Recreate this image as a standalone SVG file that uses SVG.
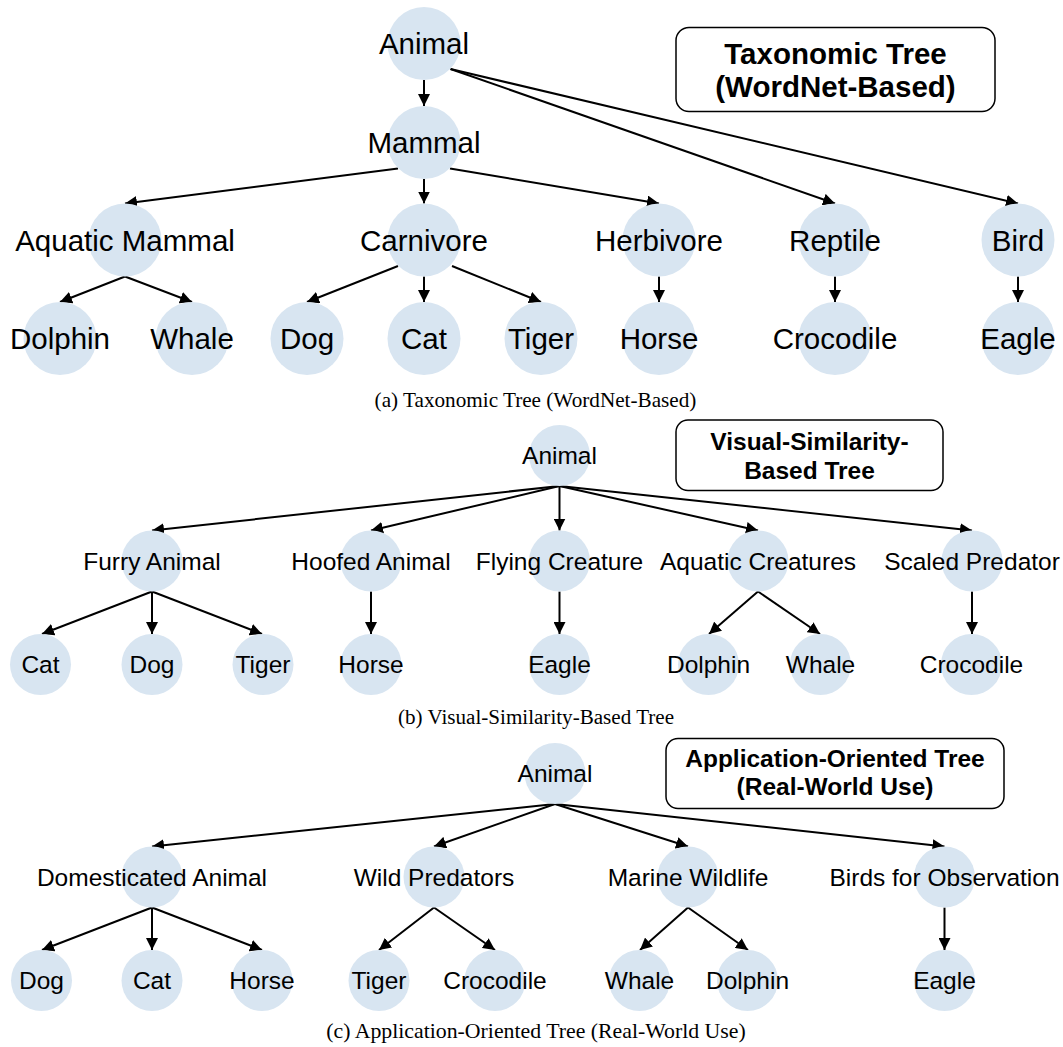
<svg xmlns="http://www.w3.org/2000/svg" width="1063" height="1047" viewBox="0 0 1063 1047">
<style>
  .bg { fill: #ffffff; }
  .node circle { fill: #d8e5f1; stroke: none; }
  .L { font-family: "Liberation Sans", Arial, sans-serif; font-size: 29.5px; fill: #000; text-anchor: middle; }
  .S { font-family: "Liberation Sans", Arial, sans-serif; font-size: 24.5px; fill: #000; text-anchor: middle; }
  .TL { font-family: "Liberation Sans", Arial, sans-serif; font-size: 29.5px; font-weight: bold; fill: #000; text-anchor: middle; }
  .TS { font-family: "Liberation Sans", Arial, sans-serif; font-size: 24.5px; font-weight: bold; fill: #000; text-anchor: middle; }
  .box { fill: #ffffff; stroke: #000; stroke-width: 1.5; }
  .cap { font-family: "Liberation Serif", "Times New Roman", serif; fill: #000; text-anchor: middle; }
  .edges line { stroke: #000; stroke-width: 2; marker-end: url(#arr); }
</style>
<defs>
  <marker id="arr" markerUnits="userSpaceOnUse" markerWidth="12" markerHeight="12" viewBox="0 0 12 12" refX="12" refY="6" orient="auto">
    <path d="M0,0 L12,6 L0,12 z" fill="#000"/>
  </marker>
</defs>
<rect class="bg" x="0" y="0" width="1063" height="1047"/>

<!-- ===== (a) ===== -->
<g id="a-title"><rect class="box" x="676" y="27.5" width="319" height="84" rx="13"/>
<text class="TL" x="835.5" y="63.5">Taxonomic Tree</text><text class="TL" x="835.5" y="97">(WordNet-Based)</text></g>

<g class="edges" id="a-edges">
  <line x1="424" y1="80" x2="424" y2="106"/>
  <line x1="450.5" y1="69" x2="835" y2="203.5"/>
  <line x1="450.5" y1="69" x2="1018" y2="203.5"/>
  <line x1="398" y1="168.5" x2="125" y2="203.5"/>
  <line x1="424" y1="179" x2="424" y2="203.5"/>
  <line x1="450" y1="168.5" x2="659" y2="203.5"/>
  <line x1="125" y1="276.5" x2="60" y2="302"/>
  <line x1="125" y1="276.5" x2="192" y2="302"/>
  <line x1="398" y1="266" x2="307" y2="302"/>
  <line x1="424" y1="276.5" x2="424" y2="302"/>
  <line x1="452" y1="266" x2="541" y2="302"/>
  <line x1="659" y1="276.5" x2="659" y2="302"/>
  <line x1="835" y1="276.5" x2="835" y2="302"/>
  <line x1="1018" y1="276.5" x2="1018" y2="302"/>
</g>

<g class="node" id="a-animal"><circle cx="424" cy="43.5" r="36.5"/><text class="L" x="424" y="54">Animal</text></g>
<g class="node" id="a-mammal"><circle cx="424" cy="142.5" r="36.5"/><text class="L" x="424" y="153">Mammal</text></g>
<g class="node" id="a-aquatic"><circle cx="125" cy="240" r="36.5"/><text class="L" x="125" y="250.5">Aquatic Mammal</text></g>
<g class="node" id="a-carnivore"><circle cx="424" cy="240" r="36.5"/><text class="L" x="424" y="250.5">Carnivore</text></g>
<g class="node" id="a-herbivore"><circle cx="659" cy="240" r="36.5"/><text class="L" x="659" y="250.5">Herbivore</text></g>
<g class="node" id="a-reptile"><circle cx="835" cy="240" r="36.5"/><text class="L" x="835" y="250.5">Reptile</text></g>
<g class="node" id="a-bird"><circle cx="1018" cy="240" r="36.5"/><text class="L" x="1018" y="250.5">Bird</text></g>
<g class="node" id="a-dolphin"><circle cx="60" cy="338.5" r="36.5"/><text class="L" x="60" y="349">Dolphin</text></g>
<g class="node" id="a-whale"><circle cx="192" cy="338.5" r="36.5"/><text class="L" x="192" y="349">Whale</text></g>
<g class="node" id="a-dog"><circle cx="307" cy="338.5" r="36.5"/><text class="L" x="307" y="349">Dog</text></g>
<g class="node" id="a-cat"><circle cx="424" cy="338.5" r="36.5"/><text class="L" x="424" y="349">Cat</text></g>
<g class="node" id="a-tiger"><circle cx="541" cy="338.5" r="36.5"/><text class="L" x="541" y="349">Tiger</text></g>
<g class="node" id="a-horse"><circle cx="659" cy="338.5" r="36.5"/><text class="L" x="659" y="349">Horse</text></g>
<g class="node" id="a-crocodile"><circle cx="835" cy="338.5" r="36.5"/><text class="L" x="835" y="349">Crocodile</text></g>
<g class="node" id="a-eagle"><circle cx="1018" cy="338.5" r="36.5"/><text class="L" x="1018" y="349">Eagle</text></g>

<text class="cap" id="cap-a" x="535.5" y="406.5" font-size="21.2">(a) Taxonomic Tree (WordNet-Based)</text>

<!-- ===== (b) ===== -->
<g id="b-title"><rect class="box" x="676" y="420" width="267" height="70.5" rx="12"/>
<text class="TS" x="809.5" y="450">Visual-Similarity-</text><text class="TS" x="809.5" y="479">Based Tree</text></g>

<g class="edges" id="b-edges">
  <line x1="559.5" y1="486" x2="152" y2="530.5"/>
  <line x1="559.5" y1="486" x2="371" y2="530.5"/>
  <line x1="559.5" y1="486" x2="559.5" y2="530.5"/>
  <line x1="559.5" y1="486" x2="758" y2="530.5"/>
  <line x1="559.5" y1="486" x2="972" y2="530.5"/>
  <line x1="152" y1="591.5" x2="42" y2="634"/>
  <line x1="152" y1="591.5" x2="152" y2="634"/>
  <line x1="152" y1="591.5" x2="262" y2="634"/>
  <line x1="371" y1="591.5" x2="371" y2="634"/>
  <line x1="559.5" y1="591.5" x2="559.5" y2="634"/>
  <line x1="758" y1="591.5" x2="709" y2="634"/>
  <line x1="758" y1="591.5" x2="820" y2="634"/>
  <line x1="972" y1="591.5" x2="972" y2="634"/>
</g>

<g class="node" id="b-animal"><circle cx="559.5" cy="455.5" r="30.5"/><text class="S" x="559.5" y="464">Animal</text></g>
<g class="node" id="b-furry"><circle cx="152" cy="561" r="30.5"/><text class="S" x="152" y="569.5">Furry Animal</text></g>
<g class="node" id="b-hoofed"><circle cx="371" cy="561" r="30.5"/><text class="S" x="371" y="569.5">Hoofed Animal</text></g>
<g class="node" id="b-flying"><circle cx="559.5" cy="561" r="30.5"/><text class="S" x="559.5" y="569.5">Flying Creature</text></g>
<g class="node" id="b-aquatic"><circle cx="758" cy="561" r="30.5"/><text class="S" x="758" y="569.5">Aquatic Creatures</text></g>
<g class="node" id="b-scaled"><circle cx="972" cy="561" r="30.5"/><text class="S" x="972" y="569.5">Scaled Predator</text></g>
<g class="node" id="b-cat"><circle cx="40.5" cy="664.5" r="30.5"/><text class="S" x="40.5" y="673">Cat</text></g>
<g class="node" id="b-dog"><circle cx="152" cy="664.5" r="30.5"/><text class="S" x="152" y="673">Dog</text></g>
<g class="node" id="b-tiger"><circle cx="263" cy="664.5" r="30.5"/><text class="S" x="263" y="673">Tiger</text></g>
<g class="node" id="b-horse"><circle cx="371" cy="664.5" r="30.5"/><text class="S" x="371" y="673">Horse</text></g>
<g class="node" id="b-eagle"><circle cx="559.5" cy="664.5" r="30.5"/><text class="S" x="559.5" y="673">Eagle</text></g>
<g class="node" id="b-dolphin"><circle cx="708.5" cy="664.5" r="30.5"/><text class="S" x="708.5" y="673">Dolphin</text></g>
<g class="node" id="b-whale"><circle cx="820.5" cy="664.5" r="30.5"/><text class="S" x="820.5" y="673">Whale</text></g>
<g class="node" id="b-crocodile"><circle cx="971.5" cy="664.5" r="30.5"/><text class="S" x="971.5" y="673">Crocodile</text></g>

<text class="cap" id="cap-b" x="536" y="723.5" font-size="21.1">(b) Visual-Similarity-Based Tree</text>

<!-- ===== (c) ===== -->
<g id="c-title"><rect class="box" x="666" y="738.5" width="338" height="70" rx="12"/>
<text class="TS" x="835" y="766.7">Application-Oriented Tree</text><text class="TS" x="835" y="795">(Real-World Use)</text></g>

<g class="edges" id="c-edges">
  <line x1="555" y1="804" x2="152" y2="846.5"/>
  <line x1="555" y1="804" x2="434" y2="846.5"/>
  <line x1="555" y1="804" x2="688" y2="846.5"/>
  <line x1="555" y1="804" x2="944.5" y2="846.5"/>
  <line x1="152" y1="907.5" x2="42" y2="950"/>
  <line x1="152" y1="907.5" x2="152" y2="950"/>
  <line x1="152" y1="907.5" x2="262" y2="950"/>
  <line x1="434" y1="907.5" x2="379" y2="950"/>
  <line x1="434" y1="907.5" x2="495" y2="950"/>
  <line x1="688" y1="907.5" x2="640" y2="950"/>
  <line x1="688" y1="907.5" x2="748" y2="950"/>
  <line x1="944.5" y1="907.5" x2="944.5" y2="950"/>
</g>

<g class="node" id="c-animal"><circle cx="555" cy="773.5" r="30.5"/><text class="S" x="555" y="782">Animal</text></g>
<g class="node" id="c-domesticated"><circle cx="152" cy="877" r="30.5"/><text class="S" x="152" y="885.5">Domesticated Animal</text></g>
<g class="node" id="c-wild"><circle cx="434" cy="877" r="30.5"/><text class="S" x="434" y="885.5">Wild Predators</text></g>
<g class="node" id="c-marine"><circle cx="688" cy="877" r="30.5"/><text class="S" x="688" y="885.5">Marine Wildlife</text></g>
<g class="node" id="c-birds"><circle cx="944.5" cy="877" r="30.5"/><text class="S" x="944.5" y="885.5">Birds for Observation</text></g>
<g class="node" id="c-dog"><circle cx="41.5" cy="980.5" r="30.5"/><text class="S" x="41.5" y="989">Dog</text></g>
<g class="node" id="c-cat"><circle cx="152" cy="980.5" r="30.5"/><text class="S" x="152" y="989">Cat</text></g>
<g class="node" id="c-horse"><circle cx="262" cy="980.5" r="30.5"/><text class="S" x="262" y="989">Horse</text></g>
<g class="node" id="c-tiger"><circle cx="379" cy="980.5" r="30.5"/><text class="S" x="379" y="989">Tiger</text></g>
<g class="node" id="c-crocodile"><circle cx="495" cy="980.5" r="30.5"/><text class="S" x="495" y="989">Crocodile</text></g>
<g class="node" id="c-whale"><circle cx="639.5" cy="980.5" r="30.5"/><text class="S" x="639.5" y="989">Whale</text></g>
<g class="node" id="c-dolphin"><circle cx="747.5" cy="980.5" r="30.5"/><text class="S" x="747.5" y="989">Dolphin</text></g>
<g class="node" id="c-eagle"><circle cx="944.5" cy="980.5" r="30.5"/><text class="S" x="944.5" y="989">Eagle</text></g>

<text class="cap" id="cap-c" x="536" y="1038" font-size="21.8">(c) Application-Oriented Tree (Real-World Use)</text>
</svg>
